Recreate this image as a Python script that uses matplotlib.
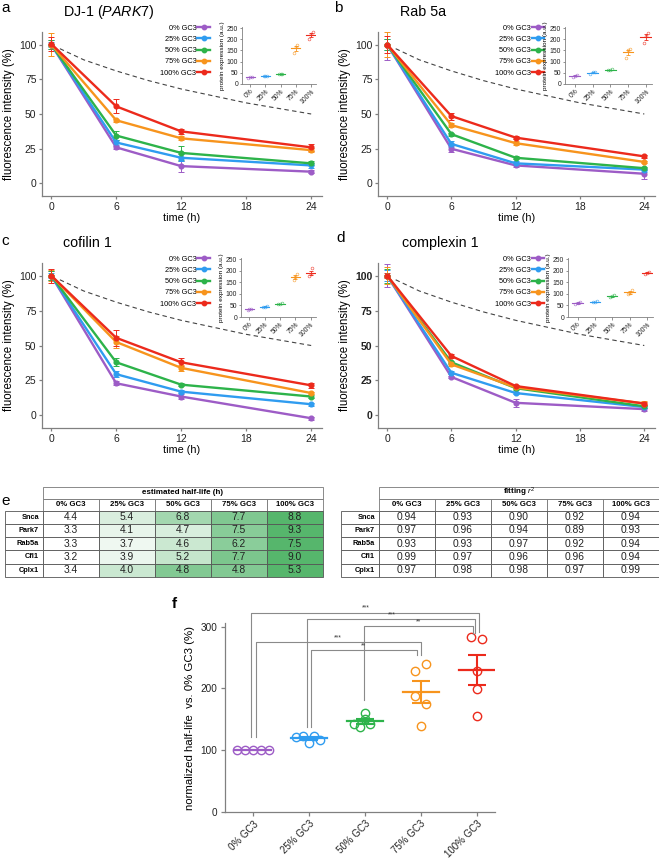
import numpy as np
import matplotlib.pyplot as plt
from matplotlib.colors import LinearSegmentedColormap
from matplotlib.lines import Line2D
from matplotlib.patches import Rectangle

plt.rcParams['font.family'] = ['Liberation Sans', 'DejaVu Sans']
plt.rcParams['mathtext.fontset'] = 'custom'
plt.rcParams['mathtext.rm'] = 'Liberation Sans'
plt.rcParams['mathtext.it'] = 'Liberation Sans:italic'

W, H = 659, 860

# ---- data ----
groups = ['0% GC3', '25% GC3', '50% GC3', '75% GC3', '100% GC3']
short = ['0%', '25%', '50%', '75%', '100%']
colors = ['#9d5cc6', '#2f9cf0', '#2db34a', '#f7941d', '#ec2a1c']
times = [0, 6, 12, 24]

# reference decay curve (dashed)
ref_t = [0.8, 3, 6, 9, 12, 15, 18, 21, 24]
ref_y = [97, 89, 81, 74, 68, 63, 58, 54, 50]

dj1_mean = [[100, 26, 12.5, 8.5], [100, 29.5, 18.5, 13], [100, 34.5, 22, 14.5],
            [100, 45.5, 32.5, 24], [100.5, 55.5, 37.5, 26]]
dj1_err = [[3, 1, 4, 1.2], [2, 1.5, 2.5, 1.5], [3, 3, 5, 1.5], [8, 1, 1.5, 1.5], [5, 5, 2, 2.5]]
dj1_expr = [[29, 31, 30], [35, 37, 36], [44, 46, 45], [140, 165, 175], [200, 225, 233]]

rab_mean = [[100, 25, 13, 7], [100, 28.5, 14.5, 10], [100, 35.5, 18.5, 11],
            [100, 42, 29, 15.5], [100, 48.5, 33, 19.5]]
rab_err = [[11, 2, 1, 3.5], [4, 2, 1.5, 1.5], [4, 1, 1, 1], [9, 1.5, 1.5, 1], [6, 2.5, 1, 1]]
rab_expr = [[33, 38, 41], [45, 52, 55], [62, 64, 65], [118, 150, 158], [185, 215, 228]]

cof_mean = [[100, 23, 13.5, -2], [100, 29.5, 17, 8], [100, 38, 22, 13.5],
            [100, 52.5, 34, 16], [100, 55.5, 38, 21.5]]
cof_err = [[3, 1.5, 2, 1], [2, 2, 1, 1], [3, 3, 1, 1], [4, 4, 2, 1], [5, 5.5, 3, 2]]
cof_expr = [[32, 33, 34], [42, 45, 47], [55, 57, 59], [160, 172, 185], [178, 185, 210]]

cpx_mean = [[100, 27.5, 9, 4.5], [100, 30.5, 16, 6], [100, 38, 19.5, 6.5],
            [100, 36.5, 20, 8.5], [100, 42.5, 21, 8.5]]
cpx_err = [[8, 1, 3, 1], [4, 1, 1, 1], [5, 1, 1, 1], [6, 1, 1, 1.5], [2, 1.5, 1, 1]]
cpx_expr = [[55, 60, 65], [63, 65, 67], [86, 90, 94], [98, 105, 115], [188, 192, 195]]

genes = ['Snca', 'Park7', 'Rab5a', 'Cfl1', 'Cplx1']
half_life = [[4.4, 5.4, 6.8, 7.7, 8.8],
             [3.3, 4.1, 4.7, 7.5, 9.3],
             [3.3, 3.7, 4.6, 6.2, 7.5],
             [3.2, 3.9, 5.2, 7.7, 9.0],
             [3.4, 4.0, 4.8, 4.8, 5.3]]
r_squared = [[0.94, 0.93, 0.90, 0.92, 0.94],
             [0.97, 0.96, 0.94, 0.89, 0.93],
             [0.93, 0.93, 0.97, 0.92, 0.94],
             [0.99, 0.97, 0.96, 0.96, 0.94],
             [0.97, 0.98, 0.98, 0.97, 0.99]]

norm_half = [[100, 100, 100, 100, 100],
             [122, 123, 112, 123, 117],
             [143, 161, 138, 142, 150],
             [229, 240, 188, 175, 140],
             [283, 280, 228, 199, 156]]
# (group a, group b, bracket height, stars, drop a, drop b)
brackets = [(0, 4, 323, '***', 122, 292),
            (1, 4, 312, '***', 138, 290),
            (2, 4, 301, '**', 181, 288),
            (0, 3, 276, '***', 122, 254),
            (1, 3, 262, '**', 138, 254)]

# ---- layout helpers ----
AXIS = '#808080'
fig = plt.figure(figsize=(W / 100, H / 100), dpi=100)


def box(l, t, r, b):
    return [l / W, 1 - b / H, (r - l) / W, (b - t) / H]


def style(ax, size=7.5, length=3, pad=3.5):
    for s in ['top', 'right']:
        ax.spines[s].set_visible(False)
    for s in ['left', 'bottom']:
        ax.spines[s].set_color(AXIS)
        ax.spines[s].set_linewidth(0.9)
    ax.tick_params(colors=AXIS, labelcolor='#222222', labelsize=size, width=0.9,
                   length=length, pad=pad)
    ax.patch.set_alpha(0)


def decay_panel(rect, irect, label, lxy, title, txy, mean, err, expr, bold_y=False):
    ax = fig.add_axes(box(*rect))
    style(ax, length=2.2, pad=1.8)
    ax.plot(ref_t, ref_y, color='#444444', lw=0.8, ls=(0, (4, 3)))
    for i in range(5):
        ax.errorbar(times, mean[i], yerr=err[i], color=colors[i], lw=1.7, marker='o', ms=3.4,
                    capsize=2, elinewidth=0.7, capthick=0.7)
    ax.set_xlim(-0.85, 25)
    ax.set_ylim(-9, 109)
    ax.set_xticks([0, 6, 12, 18, 24])
    ax.set_yticks([0, 25, 50, 75, 100])
    if bold_y:
        for t in ax.get_yticklabels():
            t.set_fontweight('bold')
    ax.set_xlabel('time (h)', fontsize=7.8, labelpad=1)
    ax.set_ylabel('fluorescence intensity (%)', fontsize=8.3, labelpad=3)
    handles = [Line2D([], [], color=c, lw=1.7, marker='o', ms=3.2) for c in colors]
    ax.legend(handles, groups, frameon=False, markerfirst=False, fontsize=5.3, loc='upper right',
              bbox_to_anchor=(0.6, 1.045), handlelength=1.7, handletextpad=0.15,
              labelspacing=0.55, borderpad=0, borderaxespad=0)
    fig.text(lxy[0] / W, 1 - lxy[1] / H, label, fontsize=11, va='top', ha='left')
    fig.text(txy[0] / W, 1 - txy[1] / H, title, fontsize=10.3, va='center', ha='left')

    ins = fig.add_axes(box(*irect))
    style(ins, size=4.9, length=1.8, pad=1)
    ins.tick_params(width=0.6)
    for s in ['left', 'bottom']:
        ins.spines[s].set_linewidth(0.6)
    for i in range(5):
        pts = np.array(expr[i], dtype=float)
        xs = i + np.array([-0.12, 0.0, 0.12])
        ins.plot(xs, pts, 'o', mfc='none', mec=colors[i], ms=2.0, mew=0.45, alpha=0.8)
        m = pts.mean()
        s = pts.std(ddof=1) / np.sqrt(len(pts))
        ins.plot([i - 0.3, i + 0.3], [m, m], color=colors[i], lw=0.8)
        ins.errorbar(i, m, yerr=s, color=colors[i], capsize=1.3, elinewidth=0.6, capthick=0.6)
    ins.set_xlim(-0.55, 4.35)
    ins.set_ylim(0, 255)
    ins.set_yticks([0, 50, 100, 150, 200, 250])
    ins.set_xticks(range(5))
    ins.set_xticklabels(short, rotation=45, ha='right', rotation_mode='anchor')
    ins.set_ylabel('protein expression (a.u.)', fontsize=4.6, labelpad=1.5)


decay_panel((42, 32, 322, 196), (242, 27, 316, 84), 'a', (1, 1), 'DJ-1 ($\\it{PARK7}$)', (63, 12),
            dj1_mean, dj1_err, dj1_expr)
decay_panel((378, 32, 655, 196), (565, 27, 652, 84), 'b', (334, 1), 'Rab 5a', (400, 12),
            rab_mean, rab_err, rab_expr)
decay_panel((42, 263, 322, 428), (241, 258, 316, 317), 'c', (1, 234), 'cofilin 1', (63, 243),
            cof_mean, cof_err, cof_expr)
decay_panel((378, 263, 655, 428), (568, 258, 653, 317), 'd', (336, 231), 'complexin 1', (402, 243),
            cpx_mean, cpx_err, cpx_expr, bold_y=True)

# ---- tables (panel e) ----
tab = fig.add_axes([0, 0, 1, 1])
tab.set_xlim(0, W)
tab.set_ylim(H, 0)
tab.axis('off')
tab.patch.set_alpha(0)
greens = LinearSegmentedColormap.from_list('g', ['#ffffff', '#56b66c'])

row_top = 510.5
row_h = 13.25
title_top, head_top = 487, 498.5
col_w = 56


def draw_table(x0, lab_l, title, values, fmt, shade):
    n = len(values[0])
    right = x0 + n * col_w
    edge = '#555555'
    # title row
    tab.add_patch(Rectangle((x0, title_top), right - x0, head_top - title_top, fc='white', ec='#777777', lw=0.6))
    tab.text((x0 + right) / 2, (title_top + head_top) / 2, title, fontsize=5.8, weight='bold',
             ha='center', va='center')
    for j in range(n):
        xl = x0 + j * col_w
        tab.add_patch(Rectangle((xl, head_top), col_w, row_top - head_top, fc='white', ec='#777777', lw=0.6))
        tab.text(xl + col_w / 2, (head_top + row_top) / 2, groups[j], fontsize=5.6, weight='bold',
                 ha='center', va='center')
    for i, g in enumerate(genes):
        yt = row_top + i * row_h
        tab.add_patch(Rectangle((lab_l, yt), x0 - lab_l, row_h, fc='white', ec=edge, lw=0.6))
        tab.text(x0 - 4, yt + row_h / 2, g, fontsize=5.3, weight='bold', ha='right', va='center')
        row = np.array(values[i], dtype=float)
        for j in range(n):
            xl = x0 + j * col_w
            if shade:
                fc = greens((row[j] - row.min()) / (row.max() - row.min()))
            else:
                fc = 'white'
            tab.add_patch(Rectangle((xl, yt), col_w, row_h, fc=fc, ec=edge, lw=0.6))
            tab.text(xl + col_w / 2, yt + row_h / 2, fmt.format(row[j]), fontsize=7.4,
                     ha='center', va='center', color='#222222')


draw_table(43, 5, 'estimated half-life (h)', half_life, '{:.1f}', True)
draw_table(379, 341, 'fitting $r^2$', r_squared, '{:.2f}', False)
fig.text(1 / W, 1 - 494 / H, 'e', fontsize=11, va='top', ha='left')

# ---- panel f ----
axf = fig.add_axes(box(225, 623, 495, 812))
style(axf, size=7.2, length=3, pad=2.5)
f_jitter = [[-0.28, -0.14, 0, 0.14, 0.28],
            [-0.23, -0.11, 0, 0.1, 0.2],
            [-0.2, 0, -0.09, 0.09, 0],
            [-0.1, 0.1, -0.1, 0.1, 0],
            [-0.1, 0.1, 0, 0, 0]]
for i in range(5):
    pts = np.array(norm_half[i], dtype=float)
    axf.plot(i + np.array(f_jitter[i]), pts, 'o', mfc='none', mec=colors[i], ms=6, mew=1.0, clip_on=False)
    m = pts.mean()
    s = pts.std(ddof=1) / np.sqrt(len(pts))
    axf.plot([i - 0.32, i + 0.32], [m, m], color=colors[i], lw=1.6)
    if s > 0:
        axf.errorbar(i, m, yerr=s, color=colors[i], capsize=6.5, elinewidth=1.5, capthick=1.5)
axf.set_xlim(-0.5, 4.33)
axf.set_ylim(0, 306)
axf.set_yticks([0, 100, 200, 300])
axf.set_xticks(range(5))
axf.set_xticklabels(groups, rotation=45, ha='right', rotation_mode='anchor', fontsize=7.0)
axf.tick_params(axis='x', pad=2)
axf.set_ylabel('normalized half-life  vs. 0% GC3 (%)', fontsize=8.2, labelpad=4)

left_off = {(0, 4): -0.03, (1, 4): -0.03, (2, 4): -0.02, (0, 3): 0.05, (1, 3): 0.03}
right_off = {(0, 4): 0.05, (1, 4): -0.02, (2, 4): -0.07, (0, 3): 0.0, (1, 3): -0.07}
for a, b, h, stars, da, db in brackets:
    xa = a + left_off[(a, b)]
    xb = b + right_off[(a, b)]
    axf.plot([xa, xa, xb, xb], [da, h, h, db], color='#8a8a8a', lw=0.8, clip_on=False)
    axf.text((xa + xb) / 2, h + 1, stars, fontsize=4.8, ha='center', va='bottom', color='#333333')
fig.text(172 / W, 1 - 597 / H, 'f', fontsize=11, weight='bold', va='top', ha='left')

fig.savefig('out.png', dpi=100)
